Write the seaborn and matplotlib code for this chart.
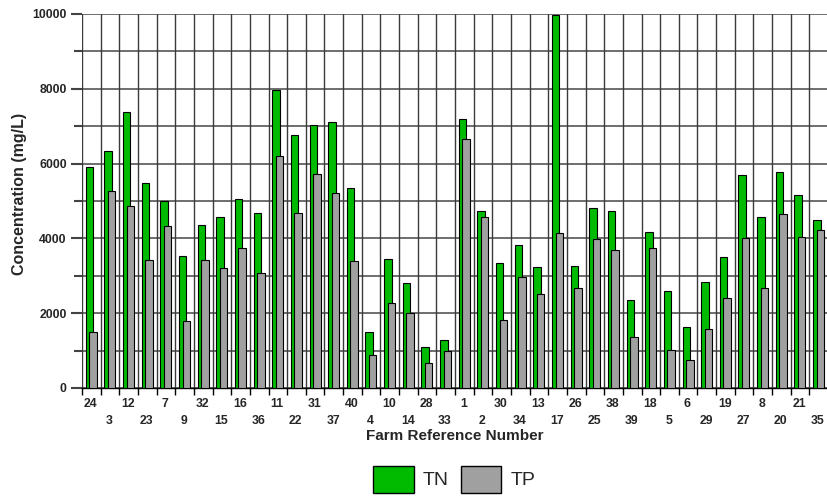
import numpy as np
import pandas as pd
import matplotlib.pyplot as plt
import seaborn as sns
from matplotlib.patches import Patch

# ---- data ----
farms = ['24', '3', '12', '23', '7', '9', '32', '15', '16', '36',
         '11', '22', '31', '37', '40', '4', '10', '14', '28', '33',
         '1', '2', '30', '34', '13', '17', '26', '25', '38', '39',
         '18', '5', '6', '29', '19', '27', '8', '20', '21', '35']
tn = [5900, 6325, 7385, 5475, 4995, 3540, 4370, 4575, 5060, 4685,
      7965, 6755, 7045, 7100, 5360, 1490, 3460, 2820, 1095, 1295,
      7180, 4720, 3335, 3835, 3240, 9975, 3255, 4800, 4730, 2345,
      4165, 2585, 1640, 2830, 3490, 5690, 4560, 5765, 5155, 4480]
tp = [1500, 5265, 4870, 3435, 4320, 1800, 3415, 3210, 3730, 3070,
      6190, 4675, 5710, 5210, 3390, 875, 2285, 2015, 670, 1000,
      6665, 4585, 1820, 2955, 2525, 4150, 2675, 3995, 3700, 1375,
      3740, 1025, 760, 1590, 2400, 4015, 2675, 4640, 4050, 4220]

TN_COLOR = '#00bb00'
TP_COLOR = '#a0a0a0'

sns.set_style('white')
plt.rcParams['font.family'] = ['Liberation Sans', 'DejaVu Sans']

fig = plt.figure(figsize=(8.27, 4.97), dpi=100)
ax = fig.add_axes([82 / 827, 109 / 497, 746 / 827, 374 / 497])

idx = np.arange(len(farms))
df = pd.DataFrame({'pos_tn': idx + 0.40, 'pos_tp': idx + 0.59, 'TN': tn, 'TP': tp})

# overlapping bars: green first, grey on top
sns.barplot(data=df, x='pos_tn', y='TN', native_scale=True, width=0.4,
            color=TN_COLOR, saturation=1, edgecolor='black', linewidth=0.8,
            errorbar=None, ax=ax, zorder=3)
sns.barplot(data=df, x='pos_tp', y='TP', native_scale=True, width=0.4,
            color=TP_COLOR, saturation=1, edgecolor='black', linewidth=0.8,
            errorbar=None, ax=ax, zorder=4)

# grid
for v in range(0, 10001, 1000):
    ax.axhline(v, color='#555555', lw=1.2, zorder=0)
for i in range(len(farms) + 1):
    ax.axvline(i, color='#3a3a3a', lw=1, zorder=0)

ax.set_xlim(0, len(farms))
ax.set_ylim(0, 10000)
for s in ['top', 'right', 'left']:
    ax.spines[s].set_visible(False)
ax.spines['bottom'].set_color('black')
ax.spines['bottom'].set_linewidth(1)

# y axis
ax.set_yticks(range(0, 10001, 2000))
ax.set_yticks(range(1000, 10000, 2000), minor=True)
ax.tick_params(axis='y', which='major', length=8, width=1.5, color='#444444',
               labelsize=8.8, left=True, pad=3)
ax.tick_params(axis='y', which='minor', length=6, width=1.5, color='#444444', left=True)
for t in ax.get_yticklabels():
    t.set_fontweight('bold')
ax.set_ylabel('Concentration (mg/L)', fontsize=11.5, fontweight='bold', labelpad=3)
ax.yaxis.set_label_coords(-0.074, 0.52)

# x axis: boundary ticks + two-row labels
ax.set_xticks(range(len(farms) + 1))
ax.set_xticklabels([])
ax.set_xticks(idx + 0.46, minor=True)
ax.set_xticklabels([f if i % 2 == 0 else '\n' + f for i, f in enumerate(farms)],
                   minor=True, fontsize=8.8, fontweight='bold')
ax.tick_params(axis='x', which='major', length=5, width=1, color='black', bottom=True)
ax.tick_params(axis='x', which='minor', length=0, pad=7.5)
for t in ax.get_xticklabels(minor=True):
    t.set_linespacing(1.55)
ax.set_xlabel('Farm Reference Number', fontsize=11, fontweight='bold', labelpad=1)

# legend
handles = [Patch(facecolor=TN_COLOR, edgecolor='black', label='TN'),
           Patch(facecolor=TP_COLOR, edgecolor='black', label='TP')]
fig.legend(handles=handles, loc='upper center', bbox_to_anchor=(454 / 827, 1 - 456 / 497),
           ncol=2, frameon=False, fontsize=14, handlelength=2.1, handleheight=1.75,
           handletextpad=0.46, columnspacing=0.62, borderpad=0)

fig.savefig('out.png', dpi=100)
